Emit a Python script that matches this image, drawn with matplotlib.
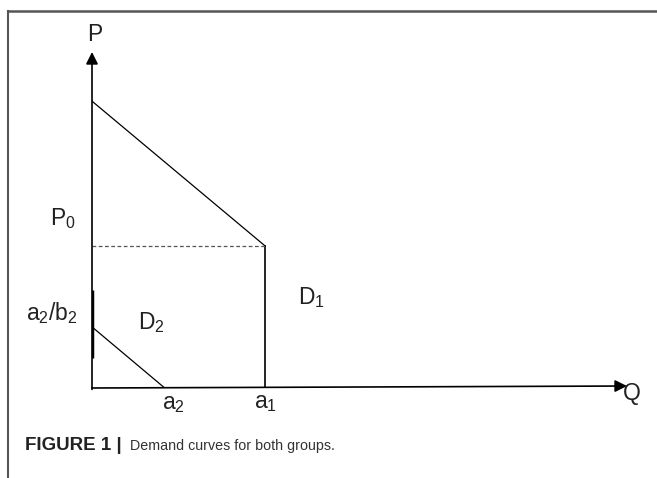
import matplotlib.pyplot as plt
from matplotlib.lines import Line2D

plt.rcParams['font.family'] = ['Liberation Sans', 'DejaVu Sans']
plt.rcParams['mathtext.fontset'] = 'custom'
plt.rcParams['mathtext.rm'] = 'Liberation Sans'

# model values (arbitrary units)
q_a1 = 10.0       # quantity a1
q_a2 = 4.2        # quantity a2
p_max1 = 10.1     # price intercept of D1
p0 = 5.0          # price P0
p_a2b2 = 2.1      # price intercept of D2 (a2/b2)
seg_lo, seg_hi = 1.05, 3.45   # thick mark on price axis
q_end = 30.9
p_end = 11.83

fig = plt.figure(figsize=(6.57, 4.78), dpi=100)
W, H = 657, 478
ax = fig.add_axes([92 / W, 90 / H, (627 - 92) / W, (388 - 52) / H])
ax.set_xlim(0, q_end)
ax.set_ylim(0, p_end)
ax.axis('off')

# axes with arrows
ax.annotate('', xy=(0, p_end), xytext=(0, -0.05),
            arrowprops=dict(arrowstyle='-|>', color='black', lw=1.2,
                            mutation_scale=18, shrinkA=0, shrinkB=0))
ax.annotate('', xy=(q_end, 0.07), xytext=(0, 0),
            arrowprops=dict(arrowstyle='-|>', color='black', lw=1.2,
                            mutation_scale=18, shrinkA=0, shrinkB=0))

# D1
ax.plot([0, q_a1], [p_max1, p0], color='black', lw=0.9)
ax.plot([q_a1, q_a1], [p0, 0], color='black', lw=1.2)
ax.plot([0, q_a1], [p0, p0], color='#555555', lw=0.9, ls=(0, (3, 2)))

# D2
ax.plot([0.1, q_a2], [p_a2b2, 0], color='black', lw=0.9)
ax.plot([0, 0], [seg_lo, seg_hi], color='black', lw=2.5, solid_capstyle='butt')

lab = dict(fontsize=16.5, color='#222222', ha='center', va='center')
ax.text(0.15, 12.43, 'P', **lab)
ax.text(-1.7, p0 + 0.95, r'$\mathregular{P_0}$', **lab)
ax.text(-2.3, 2.65, r'$\mathregular{a_2/b_2}$', **lab)
ax.text(3.45, 2.3, r'$\mathregular{D_2}$', **lab)
ax.text(12.7, 3.2, r'$\mathregular{D_1}$', **lab)
ax.text(4.7, -0.55, r'$\mathregular{a_2}$', **lab)
ax.text(10.0, -0.5, r'$\mathregular{a_1}$', **lab)
ax.text(31.15, -0.2, 'Q', **lab)

# frame of the figure panel
fig.add_artist(Line2D([8 / W, 8 / W], [0, 1 - 11 / H], color='#555555', lw=1.5))
fig.add_artist(Line2D([8 / W, 1], [1 - 11 / H, 1 - 11 / H], color='#555555', lw=1.8))

fig.text(25 / W, 1 - 446 / H, 'FIGURE 1 |', fontsize=13.5, fontweight='bold',
         color='#222222', va='center')
fig.text(130 / W, 1 - 446 / H, 'Demand curves for both groups.', fontsize=10.3,
         color='#333333', va='center')

fig.savefig('out.png', dpi=100)
